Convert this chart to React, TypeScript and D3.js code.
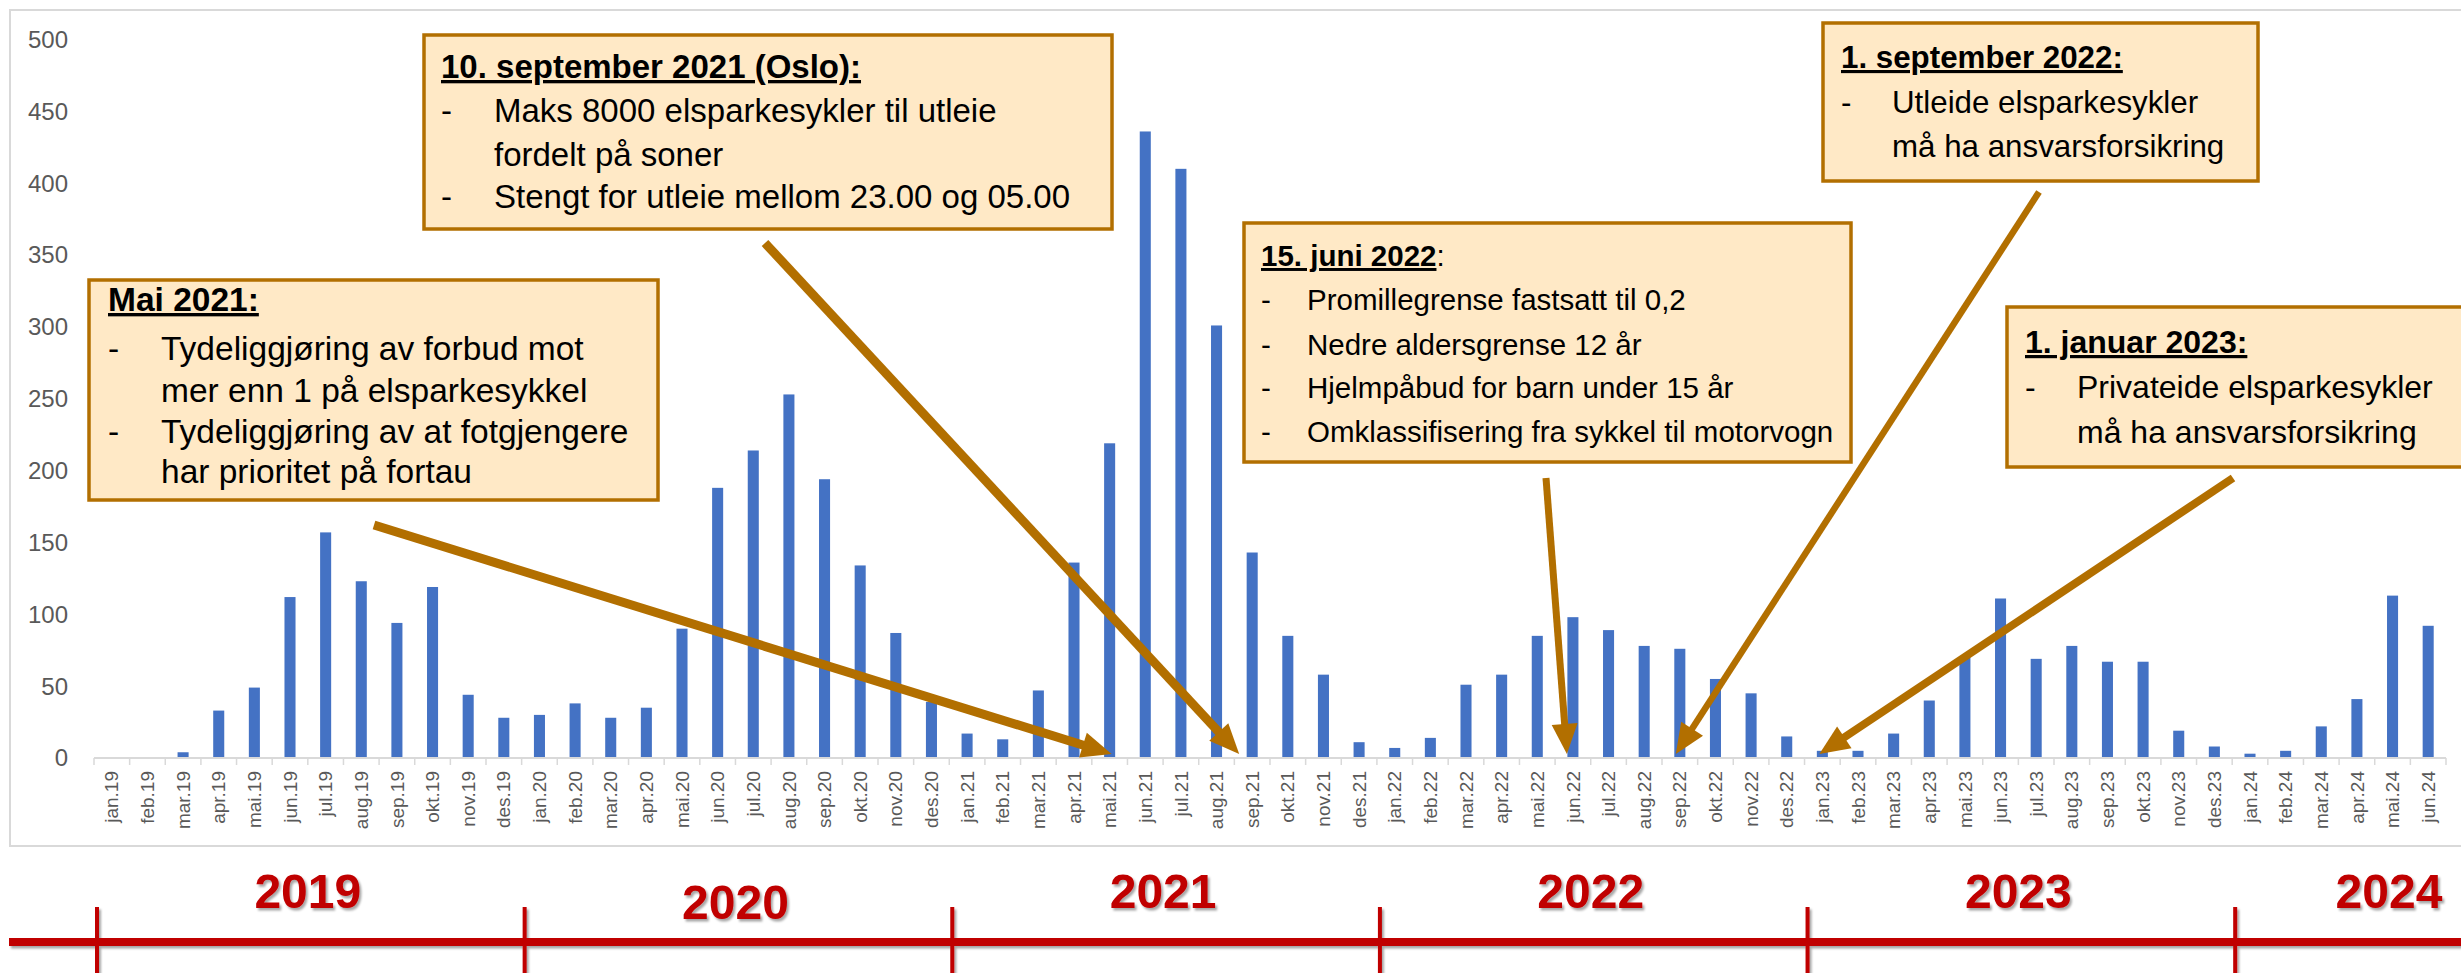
import * as d3 from 'd3';
import React from 'react';

// monthly values, jan.19 - jun.24
const values2019 = [0, 0, 4, 33, 49, 112, 157, 123, 94, 119, 44, 28];
const values2020 = [30, 38, 28, 35, 90, 188, 214, 253, 194, 134, 87, 39];
const values2021 = [17, 13, 47, 136, 219, 436, 410, 301, 143, 85, 58, 11];
const values2022 = [7, 14, 51, 58, 85, 98, 89, 78, 76, 55, 45, 15];
const values2023 = [5, 5, 17, 40, 70, 111, 69, 78, 67, 67, 19, 8];
const values2024 = [3, 5, 22, 41, 113, 92];

const monthNames = ['jan', 'feb', 'mar', 'apr', 'mai', 'jun', 'jul', 'aug', 'sep', 'okt', 'nov', 'des'];
const yearSuffix = ['19', '20', '21', '22', '23', '24'];
const yearLabels = ['2019', '2020', '2021', '2022', '2023', '2024'];
const seriesByYear = [values2019, values2020, values2021, values2022, values2023, values2024];

const data = seriesByYear.flatMap((vals, yi) =>
  vals.map((v, mi) => ({ label: monthNames[mi] + '.' + yearSuffix[yi], value: v }))
);

const font = 'Liberation Sans, Arial, sans-serif';
const BAR = '#4472C4';
const BROWN = '#B26F00';
const RED = '#C00000';

type Line = { y: number; dash: boolean; text: string };
type Note = {
  box: { x: number; y: number; w: number; h: number };
  fs: number; tx: number; ix: number;
  title: string; tail?: string; titleY: number;
  lines: Line[];
  from: [number, number]; target: string; dx: number; sw: number;
};

const notes: Note[] = [
  {
    box: { x: 89, y: 280, w: 569, h: 220 }, fs: 33.5, tx: 108, ix: 161,
    title: 'Mai 2021:', titleY: 311,
    lines: [
      { y: 360, dash: true, text: 'Tydeliggjøring av forbud mot' },
      { y: 402, dash: false, text: 'mer enn 1 på elsparkesykkel' },
      { y: 443, dash: true, text: 'Tydeliggjøring av at fotgjengere' },
      { y: 483, dash: false, text: 'har prioritet på fortau' },
    ],
    from: [374, 525], target: 'mai.21', dx: 2, sw: 9,
  },
  {
    box: { x: 424, y: 35, w: 688, h: 194 }, fs: 33, tx: 441, ix: 494,
    title: '10. september 2021 (Oslo):', titleY: 78,
    lines: [
      { y: 122, dash: true, text: 'Maks 8000 elsparkesykler til utleie' },
      { y: 166, dash: false, text: 'fordelt på soner' },
      { y: 208, dash: true, text: 'Stengt for utleie mellom 23.00 og 05.00' },
    ],
    from: [765, 243], target: 'sep.21', dx: -13, sw: 9,
  },
  {
    box: { x: 1244, y: 223, w: 607, h: 239 }, fs: 29.5, tx: 1261, ix: 1307,
    title: '15. juni 2022', tail: ':', titleY: 266,
    lines: [
      { y: 310, dash: true, text: 'Promillegrense fastsatt til 0,2' },
      { y: 355, dash: true, text: 'Nedre aldersgrense 12 år' },
      { y: 398, dash: true, text: 'Hjelmpåbud for barn under 15 år' },
      { y: 442, dash: true, text: 'Omklassifisering fra sykkel til motorvogn' },
    ],
    from: [1546, 478], target: 'jun.22', dx: -6, sw: 7,
  },
  {
    box: { x: 1823, y: 23, w: 435, h: 158 }, fs: 31.3, tx: 1841, ix: 1892,
    title: '1. september 2022:', titleY: 68,
    lines: [
      { y: 113, dash: true, text: 'Utleide elsparkesykler' },
      { y: 157, dash: false, text: 'må ha ansvarsforsikring' },
    ],
    from: [2039, 192], target: 'sep.22', dx: -4, sw: 6.5,
  },
  {
    box: { x: 2007, y: 307, w: 470, h: 160 }, fs: 32, tx: 2025, ix: 2077,
    title: '1. januar 2023:', titleY: 353,
    lines: [
      { y: 398, dash: true, text: 'Privateide elsparkesykler' },
      { y: 443, dash: false, text: 'må ha ansvarsforsikring' },
    ],
    from: [2233, 478], target: 'jan.23', dx: -3, sw: 8,
  },
];

const Arrow = ({ x1, y1, x2, y2, sw }: any) => {
  const len = Math.hypot(x2 - x1, y2 - y1);
  const ux = (x2 - x1) / len, uy = (y2 - y1) / len;
  const hl = 30, hw = 13;
  const bx = x2 - ux * hl, by = y2 - uy * hl;
  const px = -uy, py = ux;
  return (
    <g>
      <line x1={x1} y1={y1} x2={bx + ux * 3} y2={by + uy * 3} stroke={BROWN} strokeWidth={sw} />
      <polygon
        points={`${x2},${y2} ${bx + px * hw},${by + py * hw} ${bx - px * hw},${by - py * hw}`}
        fill={BROWN}
      />
    </g>
  );
};

export default function App() {
  const width = 2461, height = 973;
  const left = 94, right = 2446, base = 758, top = 39.5;

  const x = d3.scaleBand<string>()
    .domain(data.map(d => d.label))
    .range([left, right])
    .paddingInner(0.69)
    .paddingOuter(0.345);
  const y = d3.scaleLinear().domain([0, 500]).range([base, top]);
  const step = x.step();
  const edge = (label: string) => (x(label) as number) - step * x.paddingInner() / 2;
  const center = (label: string) => (x(label) as number) + x.bandwidth() / 2;

  const boundaries = d3.range(data.length + 1).map(i => left + i * step);

  return (
    <svg width={width} height={height} style={{ position: 'absolute', left: 0, top: 0, background: '#fff' }}
      fontFamily={font}>
      <defs>
        <filter id="shadow" x="-10%" y="-30%" width="130%" height="180%">
          <feDropShadow dx="2" dy="2.5" stdDeviation="1.2" floodColor="#000" floodOpacity="0.35" />
        </filter>
      </defs>

      {/* chart frame */}
      <rect x={10} y={10} width={2500} height={836} fill="#fff" stroke="#d9d9d9" strokeWidth={2} />

      {/* y axis labels */}
      {y.ticks(10).map(t => (
        <text key={t} x={68} y={y(t)} dy="0.35em" textAnchor="end" fontSize={24} fill="#595959">{t}</text>
      ))}

      {/* bars */}
      {data.map(d => (
        <rect key={d.label} x={x(d.label)} y={y(d.value)} width={x.bandwidth()}
          height={base - y(d.value)} fill={BAR} />
      ))}

      {/* x axis */}
      <line x1={left} x2={right} y1={base} y2={base} stroke="#d9d9d9" strokeWidth={2} />
      {boundaries.map((bx, i) => (
        <line key={i} x1={bx} x2={bx} y1={base} y2={base + 7} stroke="#d9d9d9" strokeWidth={1.5} />
      ))}
      {data.map(d => (
        <text key={d.label} transform={`translate(${center(d.label)},${base + 13}) rotate(-90)`}
          dy="0.35em" textAnchor="end" fontSize={19} fill="#595959">{d.label}</text>
      ))}

      {/* annotation boxes */}
      {notes.map((n, i) => (
        <g key={i}>
          <rect x={n.box.x} y={n.box.y} width={n.box.w} height={n.box.h} fill="#FFE9C6"
            stroke={BROWN} strokeWidth={3.5} />
          <text x={n.tx} y={n.titleY} fontSize={n.fs} fill="#000">
            <tspan fontWeight="bold" textDecoration="underline">{n.title}</tspan>
            {n.tail ? <tspan>{n.tail}</tspan> : null}
          </text>
          {n.lines.map((l, j) => (
            <g key={j}>
              {l.dash ? <text x={n.tx} y={l.y} fontSize={n.fs} fill="#000">-</text> : null}
              <text x={n.ix} y={l.y} fontSize={n.fs} fill="#000">{l.text}</text>
            </g>
          ))}
        </g>
      ))}

      {/* arrows */}
      {notes.map((n, i) => (
        <Arrow key={i} x1={n.from[0]} y1={n.from[1]} x2={center(n.target) + n.dx} y2={base - 4} sw={n.sw} />
      ))}

      {/* year timeline */}
      <g filter="url(#shadow)">
        <rect x={9} y={938} width={2460} height={8} fill={RED} />
        {yearSuffix.map(s => {
          const bx = edge('jan.' + s) + 3;
          return <rect key={s} x={bx - 2} y={907} width={4} height={70} fill={RED} />;
        })}
        {yearLabels.map((yl, i) => {
          const start = edge('jan.' + yearSuffix[i]);
          const cx = Math.min(start + 6 * step, 2441 - 52);
          return (
            <text key={yl} x={cx} y={i === 1 ? 919 : 908} textAnchor="middle" fontSize={48}
              fontWeight="bold" fill={RED}>{yl}</text>
          );
        })}
      </g>
    </svg>
  );
}
